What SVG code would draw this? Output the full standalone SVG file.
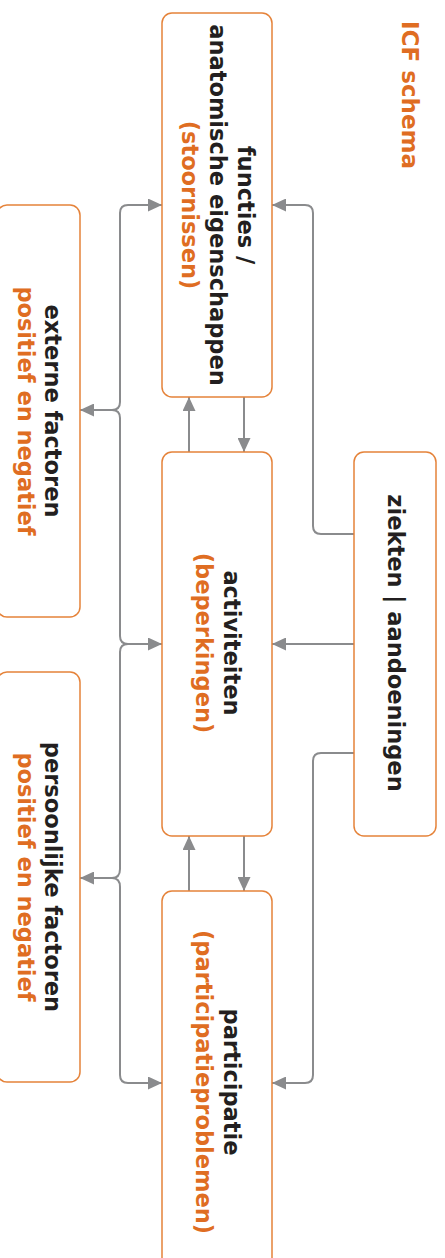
<svg xmlns="http://www.w3.org/2000/svg" width="445" height="1258" viewBox="0 0 445 1258">
<style>
.box{fill:#fff;stroke:#e5833a;stroke-width:1.5}
.t{font-family:"DejaVu Sans",Verdana,sans-serif;font-weight:bold;font-size:22.5px;text-anchor:middle}
.k{fill:#231f20}
.o{fill:#df6d22}
.c{fill:none;stroke:#8a8b8d;stroke-width:2}
.a{marker-end:url(#arr)}
</style>
<defs>
<marker id="arr" viewBox="0 0 14 13" refX="14" refY="6.5" markerWidth="14" markerHeight="13" markerUnits="userSpaceOnUse" orient="auto">
<path d="M0,0 L14,6.5 L0,13 Z" fill="#8a8b8d"/>
</marker>
</defs>
<rect width="445" height="1258" fill="#fff"/>
<g id="title"><text class="t o" font-size="23" transform="translate(402,95) rotate(90)" style="font-size:23px">ICF schema</text></g>
<g id="connectors">
<path class="c a" d="M120,402 L120,213 Q120,205 128,205 L162,205"/>
<path class="c a" d="M120,418 L120,636 Q120,644 128,644 L162,644"/>
<path class="c" d="M120,402 Q120,410 112,410"/>
<path class="c a" d="M120,418 Q120,410 112,410 L80,410"/>
<path class="c" d="M120,869 L120,652 Q120,644 128,644"/>
<path class="c a" d="M120,887 L120,1075 Q120,1083 128,1083 L162,1083"/>
<path class="c" d="M120,869 Q120,878 112,878"/>
<path class="c a" d="M120,887 Q120,878 112,878 L80,878"/>
<path class="c a" d="M354,534 L321,534 Q313,534 313,526 L313,213 Q313,205 305,205 L272,205"/>
<path class="c a" d="M354,644 L272,644"/>
<path class="c a" d="M354,753 L321,753 Q313,753 313,761 L313,1075 Q313,1083 305,1083 L272,1083"/>
<path class="c a" d="M189,452 L189,397"/>
<path class="c a" d="M244,397 L244,452"/>
<path class="c a" d="M189,891 L189,836"/>
<path class="c a" d="M244,836 L244,891"/>
</g>
<g id="functies">
<rect class="box" x="162" y="13" width="110" height="384" rx="10"/>
<g transform="translate(238,205) rotate(90)">
<text class="t k" x="0" y="0">functies /</text>
<text class="t k" x="0" y="28">anatomische eigenschappen</text>
<text class="t o" x="0" y="56">(stoornissen)</text>
</g>
</g>
<g id="activiteiten">
<rect class="box" x="162" y="452" width="110" height="384" rx="10"/>
<g transform="translate(224,643) rotate(90)">
<text class="t k" x="0" y="0">activiteiten</text>
<text class="t o" x="0" y="28">(beperkingen)</text>
</g>
</g>
<g id="participatie">
<rect class="box" x="162" y="891" width="110" height="400" rx="10"/>
<g transform="translate(224,1082) rotate(90)">
<text class="t k" x="0" y="0">participatie</text>
<text class="t o" x="0" y="28">(participatieproblemen)</text>
</g>
</g>
<g id="ziekten">
<rect class="box" x="354" y="452" width="82" height="384" rx="10"/>
<g transform="translate(388,643) rotate(90)">
<text class="t k" x="0" y="0">ziekten | aandoeningen</text>
</g>
</g>
<g id="externe">
<rect class="box" x="-3" y="205" width="83" height="412" rx="10"/>
<g transform="translate(45,411) rotate(90)">
<text class="t k" x="0" y="0">externe factoren</text>
<text class="t o" x="0" y="27">positief en negatief</text>
</g>
</g>
<g id="persoonlijke">
<rect class="box" x="-3" y="672" width="83" height="410" rx="10"/>
<g transform="translate(45,877) rotate(90)">
<text class="t k" x="0" y="0">persoonlijke factoren</text>
<text class="t o" x="0" y="27">positief en negatief</text>
</g>
</g>
</svg>
